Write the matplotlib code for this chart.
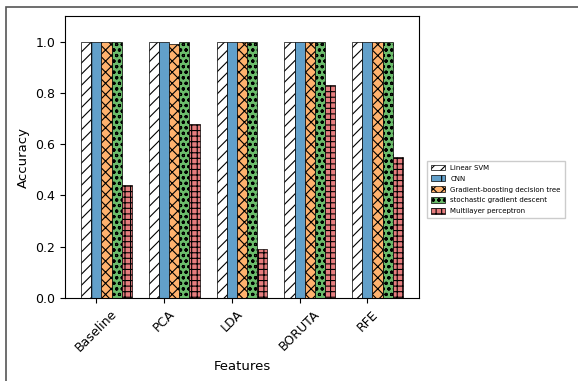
import numpy as np
import matplotlib
matplotlib.use("Agg")
from matplotlib import pyplot as plt
from matplotlib.patches import Rectangle

features = ["Baseline", "PCA", "LDA", "BORUTA", "RFE"]
models = ["Linear SVM", "CNN", "Gradient-boosting decision tree",
          "stochastic gradient descent", "Multilayer perceptron"]

svm_acc = [1.0, 1.0, 1.0, 1.0, 1.0]
cnn_acc = [1.0, 1.0, 1.0, 1.0, 1.0]
gbdt_acc = [1.0, 0.99, 1.0, 1.0, 1.0]
sgd_acc = [1.0, 1.0, 1.0, 1.0, 1.0]
mlp_acc = [0.44, 0.68, 0.19, 0.83, 0.55]

colors = ["white", "#62a0ca", "#ffb26e", "#6bbc6b", "#e67d7e"]
hatches = ["///", "|", "xxx", "ooo", "+++"]

plt.rcParams["hatch.linewidth"] = 0.8

fig = plt.figure(figsize=(5.78, 3.81), dpi=100)
ax = fig.add_axes([65 / 578, 1 - 298 / 381, 354 / 578, 282 / 381])

x = np.arange(len(features))
width = 0.15
all_acc = [svm_acc, cnn_acc, gbdt_acc, sgd_acc, mlp_acc]
for i, acc in enumerate(all_acc):
    ax.bar(x + (i - 1) * width, acc, width, color=colors[i], hatch=hatches[i],
           edgecolor="black", linewidth=0.5, label=models[i])

ax.set_ylim(0, 1.1)
ax.set_yticks([0.0, 0.2, 0.4, 0.6, 0.8, 1.0])
ax.set_xticks(x)
ax.set_xticklabels(features, rotation=45, ha="center", fontsize=9)
ax.tick_params(axis="y", labelsize=9)
ax.set_xlabel("Features", fontsize=9.5, labelpad=4)
ax.set_ylabel("Accuracy", fontsize=9.5)

ax.legend(loc="center left", bbox_to_anchor=(1.012, 0.385), fontsize=5.0,
          handlelength=2.0, handleheight=0.9, labelspacing=0.65,
          borderpad=0.6, fancybox=False, framealpha=1, edgecolor="#cccccc")

# outer frame around the chart
fig.patches.append(Rectangle((6 / 578, -0.1), 1.2, 1 - 7 / 381 + 0.1,
                             transform=fig.transFigure, fill=False,
                             edgecolor="#555555", linewidth=1.2))

fig.savefig("out.png", dpi=100)
